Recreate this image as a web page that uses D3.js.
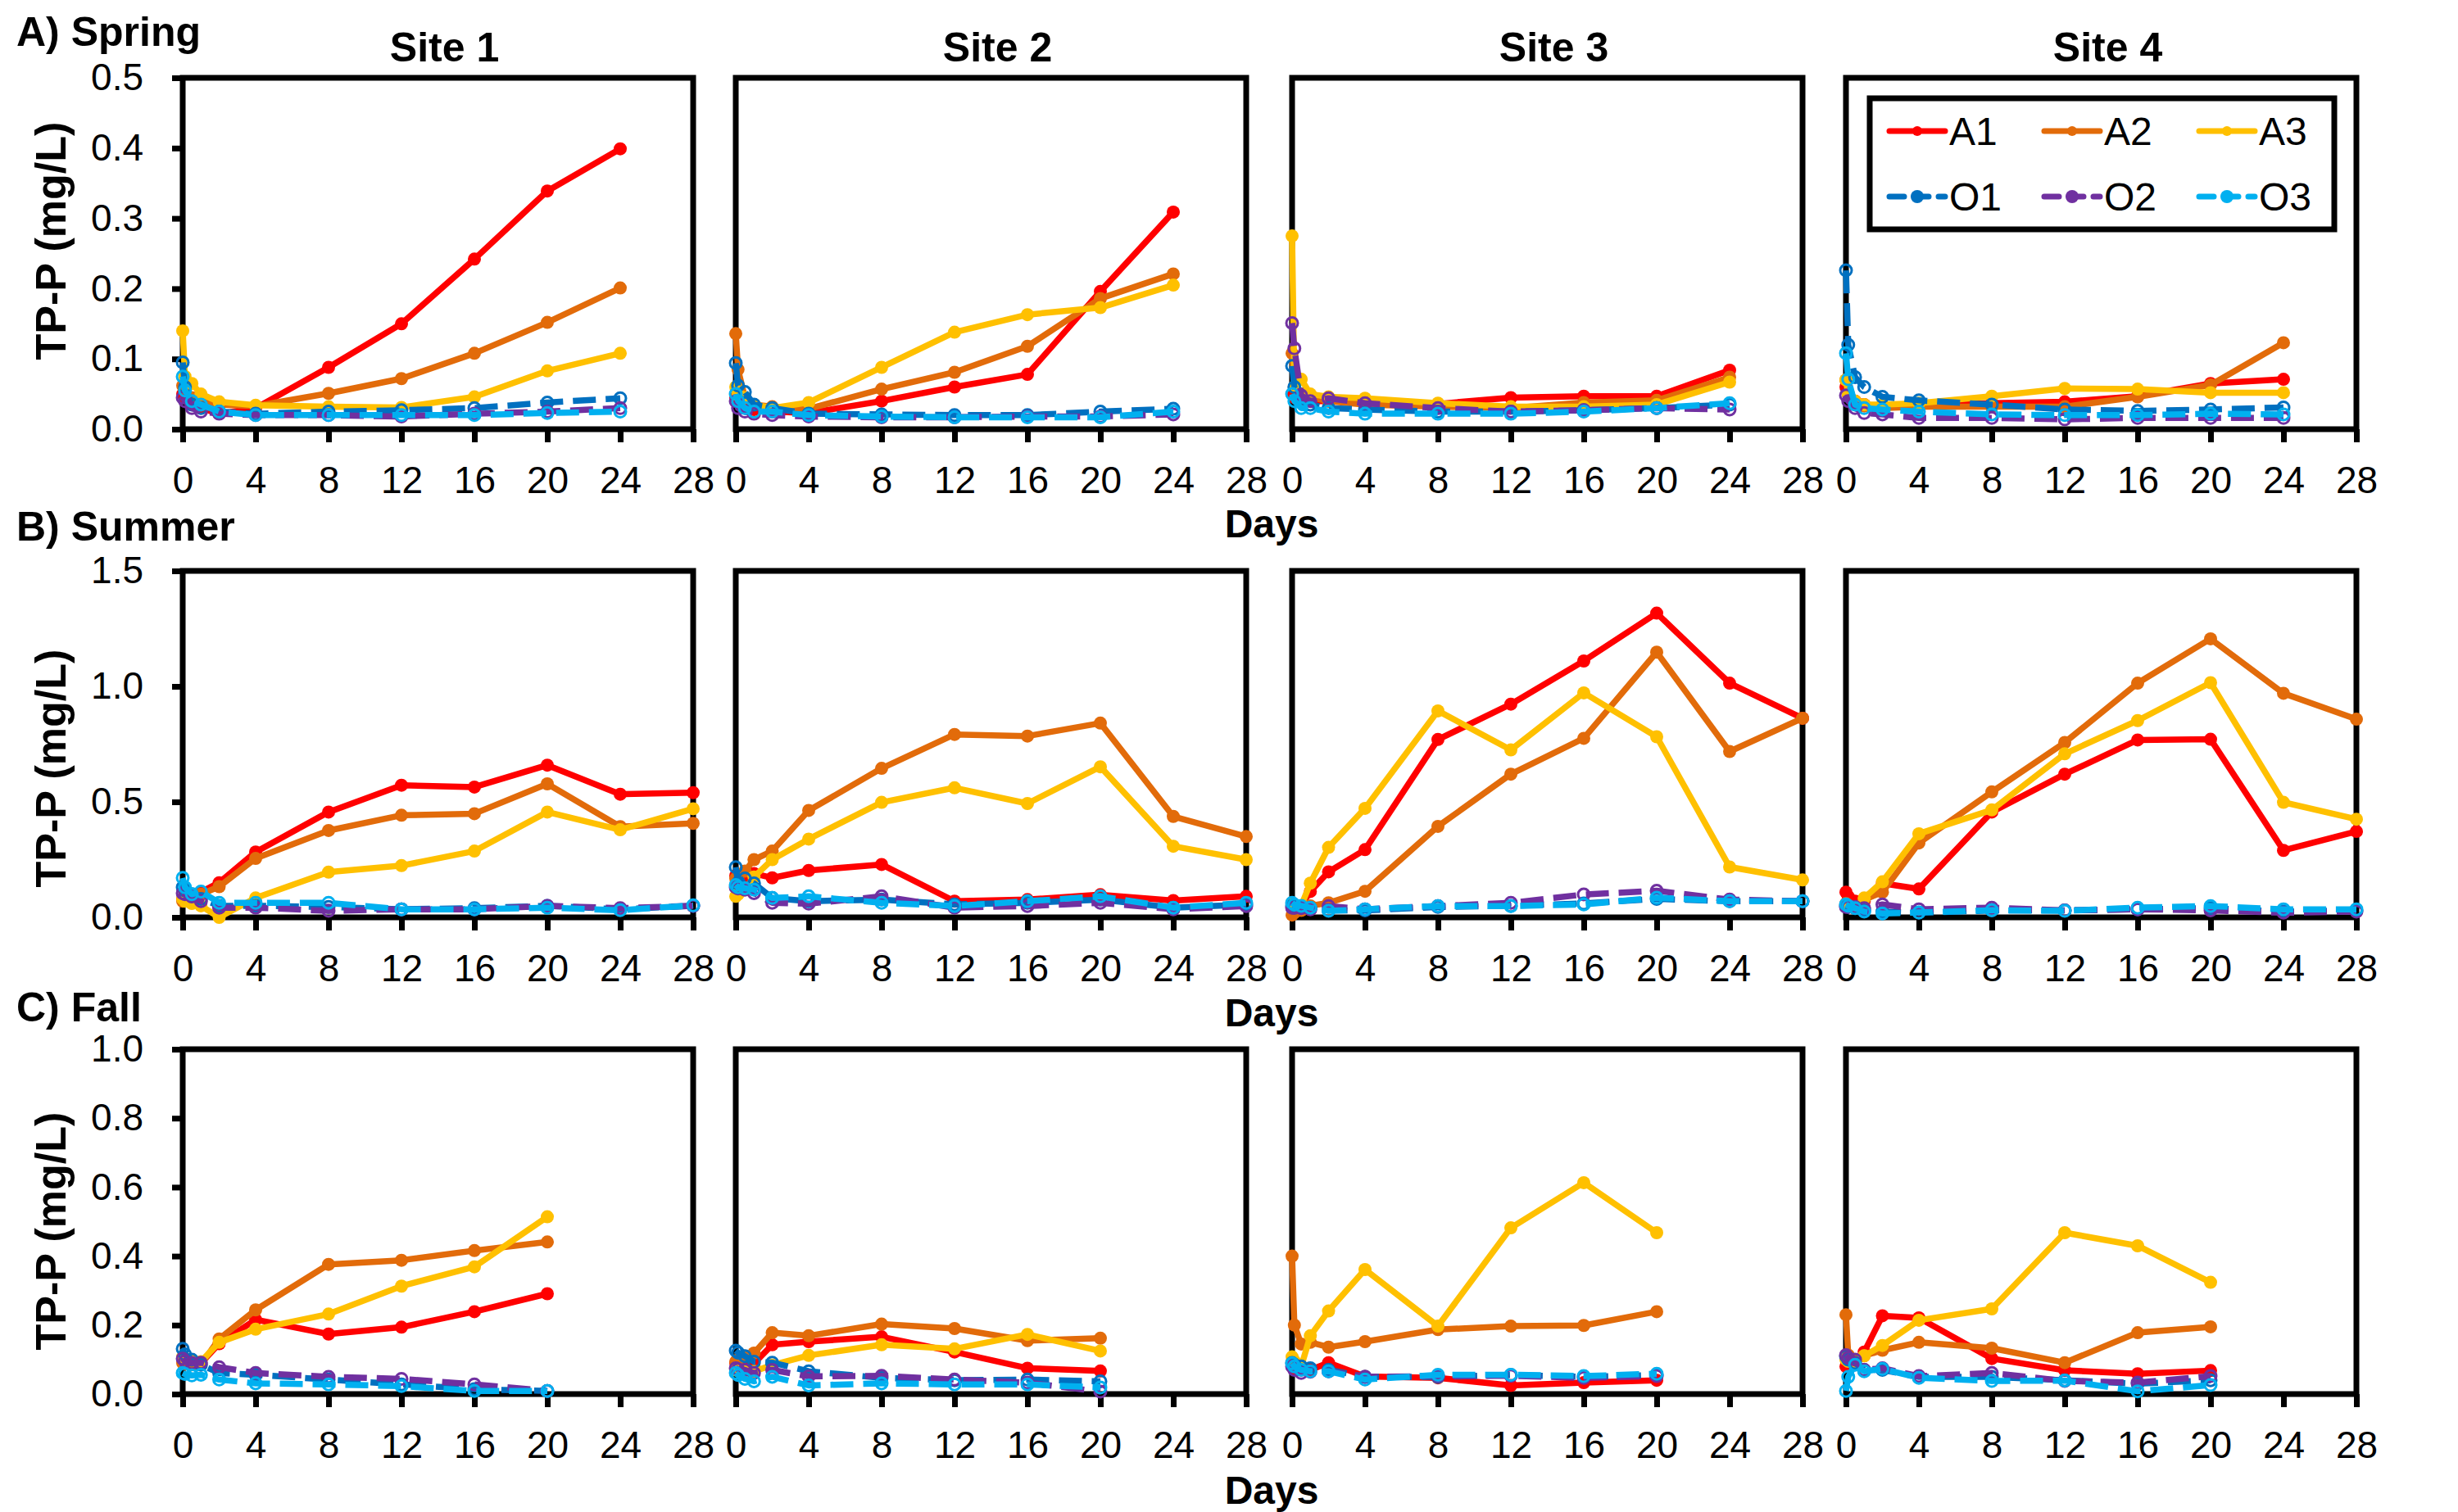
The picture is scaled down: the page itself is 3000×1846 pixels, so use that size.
<!DOCTYPE html>
<html>
<head>
<meta charset="utf-8">
<script src="https://cdn.jsdelivr.net/npm/d3@7"></script>
<style>
  body { margin: 0; background: #fff; }
  text { font-family: "Liberation Sans", Arial, sans-serif; }
</style>
</head>
<body>
<div id="chart"></div>
<script>
// sampling days per season
var springDays = [0, 0.125, 0.5, 1, 2, 4, 8, 12, 16, 20, 24];
var summerDays = [0, 0.125, 0.5, 1, 2, 4, 8, 12, 16, 20, 24, 28];
var fallDays = [0, 0.125, 0.5, 1, 2, 4, 8, 12, 16, 20];

// TP-P (mg/L), one object per site, series A1..O3
var spring1 = {
  A1: [0.05, 0.045, 0.035, 0.03, 0.022, 0.03, 0.088, 0.15, 0.242, 0.339, 0.399],
  A2: [0.062, 0.058, 0.045, 0.04, 0.035, 0.033, 0.051, 0.072, 0.108, 0.152, 0.201],
  A3: [0.14, 0.075, 0.065, 0.05, 0.039, 0.034, 0.032, 0.031, 0.046, 0.083, 0.108],
  O1: [0.095, 0.06, 0.035, 0.03, 0.025, 0.022, 0.025, 0.027, 0.03, 0.038, 0.044],
  O2: [0.045, 0.04, 0.03, 0.025, 0.022, 0.02, 0.02, 0.018, 0.022, 0.025, 0.03],
  O3: [0.075, 0.055, 0.04, 0.035, 0.025, 0.02, 0.02, 0.02, 0.02, 0.023, 0.025]
};
var spring2 = {
  A1: [0.045, 0.04, 0.03, 0.028, 0.025, 0.023, 0.04, 0.06, 0.078, 0.196, 0.309],
  A2: [0.136, 0.085, 0.045, 0.035, 0.032, 0.029, 0.057, 0.081, 0.118, 0.186, 0.221],
  A3: [0.06, 0.05, 0.045, 0.035, 0.03, 0.038, 0.088, 0.138, 0.163, 0.173, 0.205],
  O1: [0.094, 0.062, 0.053, 0.035, 0.03, 0.022, 0.021, 0.02, 0.02, 0.025, 0.029],
  O2: [0.04, 0.03, 0.025, 0.022, 0.02, 0.018, 0.017, 0.017, 0.018, 0.018, 0.021],
  O3: [0.05, 0.04, 0.03, 0.025, 0.025, 0.02, 0.018, 0.017, 0.017, 0.017, 0.025]
};
var spring3 = {
  A1: [0.05, 0.045, 0.042, 0.04, 0.04, 0.04, 0.036, 0.045, 0.047, 0.047, 0.084],
  A2: [0.108, 0.06, 0.05, 0.045, 0.04, 0.035, 0.032, 0.03, 0.038, 0.041, 0.074],
  A3: [0.275, 0.06, 0.071, 0.05, 0.046, 0.044, 0.037, 0.032, 0.032, 0.035, 0.067],
  O1: [0.09, 0.06, 0.04, 0.035, 0.03, 0.028, 0.025, 0.025, 0.027, 0.03, 0.035],
  O2: [0.151, 0.115, 0.048, 0.04, 0.044, 0.037, 0.03, 0.025, 0.027, 0.03, 0.028],
  O3: [0.05, 0.04, 0.03, 0.03, 0.025, 0.022, 0.022, 0.022, 0.025, 0.03, 0.037]
};
var spring4 = {
  A1: [0.06, 0.05, 0.04, 0.035, 0.033, 0.035, 0.037, 0.039, 0.047, 0.065, 0.071],
  A2: [0.07, 0.05, 0.04, 0.033, 0.03, 0.032, 0.032, 0.032, 0.046, 0.063, 0.123],
  A3: [0.07, 0.05, 0.04, 0.035, 0.035, 0.037, 0.047, 0.058, 0.057, 0.052, 0.052],
  O1: [0.226, 0.12, 0.074, 0.06, 0.046, 0.041, 0.035, 0.028, 0.026, 0.028, 0.031],
  O2: [0.048, 0.04, 0.03, 0.023, 0.021, 0.016, 0.016, 0.014, 0.016, 0.016, 0.016],
  O3: [0.108, 0.071, 0.035, 0.03, 0.028, 0.025, 0.021, 0.02, 0.02, 0.022, 0.021]
};

var summer1 = {
  A1: [0.08, 0.085, 0.09, 0.11, 0.15, 0.283, 0.456, 0.572, 0.564, 0.659, 0.533, 0.54],
  A2: [0.07, 0.075, 0.08, 0.1, 0.133, 0.255, 0.376, 0.442, 0.449, 0.578, 0.393, 0.407],
  A3: [0.08, 0.07, 0.06, 0.05, 0.0, 0.084, 0.196, 0.224, 0.287, 0.456, 0.379, 0.47],
  O1: [0.13, 0.115, 0.1, 0.08, 0.05, 0.05, 0.045, 0.035, 0.04, 0.05, 0.035, 0.05],
  O2: [0.105, 0.1, 0.09, 0.07, 0.042, 0.042, 0.028, 0.035, 0.035, 0.05, 0.04, 0.05],
  O3: [0.171, 0.13, 0.1, 0.112, 0.063, 0.063, 0.063, 0.035, 0.035, 0.042, 0.031, 0.052]
};
var summer2 = {
  A1: [0.18, 0.175, 0.17, 0.19, 0.171, 0.203, 0.229, 0.07, 0.077, 0.098, 0.073, 0.091],
  A2: [0.168, 0.16, 0.2, 0.25, 0.287, 0.463, 0.645, 0.792, 0.785, 0.841, 0.437, 0.35],
  A3: [0.091, 0.1, 0.12, 0.175, 0.25, 0.339, 0.498, 0.561, 0.493, 0.652, 0.308, 0.25],
  O1: [0.217, 0.15, 0.168, 0.147, 0.084, 0.07, 0.077, 0.056, 0.063, 0.077, 0.042, 0.056],
  O2: [0.13, 0.125, 0.12, 0.105, 0.063, 0.059, 0.091, 0.042, 0.049, 0.063, 0.035, 0.049],
  O3: [0.14, 0.13, 0.126, 0.12, 0.084, 0.091, 0.063, 0.049, 0.07, 0.091, 0.042, 0.063]
};
var summer3 = {
  A1: [0.06, 0.055, 0.05, 0.112, 0.197, 0.293, 0.77, 0.923, 1.11, 1.317, 1.014, 0.862],
  A2: [0.01, 0.02, 0.03, 0.05, 0.063, 0.113, 0.394, 0.62, 0.775, 1.148, 0.718, 0.862],
  A3: [0.063, 0.055, 0.05, 0.148, 0.303, 0.472, 0.894, 0.725, 0.972, 0.782, 0.218, 0.162],
  O1: [0.05, 0.048, 0.045, 0.04, 0.03, 0.03, 0.045, 0.05, 0.06, 0.08, 0.07, 0.07],
  O2: [0.042, 0.041, 0.04, 0.035, 0.049, 0.035, 0.049, 0.063, 0.099, 0.115, 0.077, 0.07],
  O3: [0.063, 0.055, 0.05, 0.042, 0.028, 0.035, 0.049, 0.049, 0.056, 0.085, 0.07, 0.07]
};
var summer4 = {
  A1: [0.109, 0.09, 0.07, 0.07, 0.147, 0.123, 0.456, 0.62, 0.768, 0.771, 0.29, 0.372],
  A2: [0.06, 0.05, 0.04, 0.077, 0.109, 0.322, 0.543, 0.757, 1.014, 1.206, 0.97, 0.858],
  A3: [0.05, 0.045, 0.04, 0.084, 0.154, 0.362, 0.465, 0.708, 0.852, 1.016, 0.498, 0.425],
  O1: [0.05, 0.045, 0.04, 0.03, 0.025, 0.02, 0.03, 0.03, 0.035, 0.04, 0.025, 0.03],
  O2: [0.045, 0.045, 0.045, 0.04, 0.056, 0.035, 0.042, 0.03, 0.035, 0.03, 0.02, 0.025],
  O3: [0.056, 0.05, 0.04, 0.025, 0.017, 0.021, 0.031, 0.028, 0.042, 0.049, 0.035, 0.035]
};

var fall1 = {
  A1: [0.1, 0.095, 0.09, 0.089, 0.146, 0.216, 0.174, 0.194, 0.239, 0.291],
  A2: [0.09, 0.088, 0.085, 0.085, 0.16, 0.244, 0.376, 0.388, 0.416, 0.441],
  A3: [0.108, 0.104, 0.099, 0.094, 0.15, 0.188, 0.232, 0.313, 0.369, 0.514],
  O1: [0.131, 0.115, 0.1, 0.085, 0.061, 0.056, 0.042, 0.028, 0.014, 0.009],
  O2: [0.103, 0.095, 0.09, 0.091, 0.078, 0.061, 0.05, 0.044, 0.028, 0.009],
  O3: [0.061, 0.058, 0.054, 0.056, 0.042, 0.031, 0.028, 0.023, 0.009, 0.009]
};
var fall2 = {
  A1: [0.09, 0.09, 0.09, 0.089, 0.143, 0.152, 0.166, 0.122, 0.075, 0.067],
  A2: [0.094, 0.1, 0.11, 0.119, 0.178, 0.169, 0.203, 0.19, 0.155, 0.162],
  A3: [0.07, 0.068, 0.066, 0.066, 0.084, 0.112, 0.143, 0.131, 0.173, 0.125],
  O1: [0.126, 0.12, 0.11, 0.094, 0.091, 0.066, 0.047, 0.04, 0.042, 0.037],
  O2: [0.075, 0.072, 0.07, 0.061, 0.07, 0.051, 0.053, 0.042, 0.033, 0.007],
  O3: [0.061, 0.055, 0.044, 0.037, 0.05, 0.025, 0.031, 0.028, 0.028, 0.019]
};
var fall3 = {
  A1: [0.08, 0.075, 0.07, 0.07, 0.091, 0.051, 0.047, 0.025, 0.033, 0.04],
  A2: [0.4, 0.2, 0.145, 0.15, 0.136, 0.152, 0.187, 0.197, 0.199, 0.239],
  A3: [0.108, 0.095, 0.08, 0.169, 0.241, 0.361, 0.197, 0.482, 0.613, 0.468],
  O1: [0.09, 0.085, 0.08, 0.075, 0.07, 0.05, 0.05, 0.055, 0.05, 0.055],
  O2: [0.08, 0.07, 0.061, 0.065, 0.066, 0.05, 0.052, 0.053, 0.047, 0.052],
  O3: [0.089, 0.08, 0.07, 0.066, 0.066, 0.042, 0.056, 0.056, 0.052, 0.059]
};
var fall4 = {
  A1: [0.08, 0.082, 0.085, 0.122, 0.227, 0.221, 0.103, 0.069, 0.059, 0.068],
  A2: [0.23, 0.113, 0.1, 0.111, 0.127, 0.15, 0.133, 0.091, 0.178, 0.195],
  A3: [0.1, 0.095, 0.09, 0.111, 0.141, 0.214, 0.247, 0.468, 0.43, 0.324],
  O1: [0.11, 0.1, 0.09, 0.07, 0.07, 0.05, 0.05, 0.04, 0.03, 0.04],
  O2: [0.113, 0.105, 0.1, 0.07, 0.075, 0.052, 0.061, 0.038, 0.033, 0.052],
  O3: [0.009, 0.05, 0.085, 0.066, 0.073, 0.047, 0.038, 0.039, 0.008, 0.026]
};

var seasonLabels = ["A) Spring", "B) Summer", "C) Fall"];
var siteLabels = ["Site 1", "Site 2", "Site 3", "Site 4"];
var seriesNames = ["A1", "A2", "A3", "O1", "O2", "O3"];
var seriesColors = ["#FF0000", "#E26B0A", "#FFC000", "#0070C0", "#7030A0", "#00B0F0"];
var xTicks = [0, 4, 8, 12, 16, 20, 24, 28];
var yTicks = [
  [0, 0.1, 0.2, 0.3, 0.4, 0.5],
  [0, 0.5, 1.0, 1.5],
  [0, 0.2, 0.4, 0.6, 0.8, 1.0]
];

var seasonDays = [springDays, summerDays, fallDays];
var seasonSites = [
  [spring1, spring2, spring3, spring4],
  [summer1, summer2, summer3, summer4],
  [fall1, fall2, fall3, fall4]
];

var width = 3000;
var height = 1846;

// panel geometry (px)
var colLeft = [223, 898, 1577, 2253];
var panelW = 623;
var rowTop = [95, 697, 1281];
var rowBottom = [524, 1120, 1702];
var titleY = [294, 938, 1503]; // centre of rotated y title
var daysY = [656, 1253, 1836];
var labelY = [56, 660, 1247];

var svg = d3
  .select("#chart")
  .append("svg")
  .attr("width", width)
  .attr("height", height)
  .attr("viewBox", `0 0 ${width} ${height}`);

svg.append("rect").attr("width", width).attr("height", height).attr("fill", "#fff");

seasonLabels.forEach((label, r) => {
  var days = seasonDays[r];
  var top = rowTop[r];
  var bottom = rowBottom[r];

  svg
    .append("text")
    .attr("x", 20)
    .attr("y", labelY[r])
    .attr("font-size", 50)
    .attr("font-weight", "bold")
    .text(label);

  svg
    .append("text")
    .attr("transform", `translate(80, ${titleY[r]}) rotate(-90)`)
    .attr("text-anchor", "middle")
    .attr("font-size", 52)
    .attr("font-weight", "bold")
    .text("TP-P (mg/L)");

  svg
    .append("text")
    .attr("x", 1552)
    .attr("y", daysY[r])
    .attr("text-anchor", "middle")
    .attr("font-size", 48)
    .attr("font-weight", "bold")
    .text("Days");

  var yDomainMax = yTicks[r][yTicks[r].length - 1];

  seasonSites[r].forEach((site, c) => {
    var left = colLeft[c];
    var x = d3.scaleLinear().domain([0, 28]).range([left, left + panelW]);
    var y = d3.scaleLinear().domain([0, yDomainMax]).range([bottom, top]);

    var g = svg.append("g");

    if (r === 0) {
      svg
        .append("text")
        .attr("x", left + panelW / 2 + 8)
        .attr("y", 75)
        .attr("text-anchor", "middle")
        .attr("font-size", 50)
        .attr("font-weight", "bold")
        .text(siteLabels[c]);
    }

    // x axis
    var xAxis = g
      .append("g")
      .attr("transform", `translate(0, ${bottom})`)
      .call(
        d3.axisBottom(x).tickValues(xTicks).tickSize(16).tickPadding(29).tickFormat(d3.format("d"))
      );
    xAxis.select(".domain").remove();
    xAxis.selectAll("line").attr("stroke", "#000").attr("stroke-width", 7);
    xAxis.selectAll("text").attr("font-size", 46).attr("fill", "#000").attr("font-family", "Liberation Sans, Arial, sans-serif");

    // y axis only on first column
    if (c === 0) {
      var yAxis = g
        .append("g")
        .attr("transform", `translate(${left}, 0)`)
        .call(d3.axisLeft(y).tickValues(yTicks[r]).tickSize(13).tickPadding(35).tickFormat(d3.format(".1f")));
      yAxis.select(".domain").remove();
      yAxis.selectAll("line").attr("stroke", "#000").attr("stroke-width", 7);
      yAxis.selectAll("text").attr("font-size", 46).attr("fill", "#000").attr("font-family", "Liberation Sans, Arial, sans-serif");
    }

    // plot frame
    g.append("rect")
      .attr("x", x(0))
      .attr("y", y(yDomainMax))
      .attr("width", x(28) - x(0))
      .attr("height", y(0) - y(yDomainMax))
      .attr("fill", "none")
      .attr("stroke", "#000")
      .attr("stroke-width", 7);

    var line = d3
      .line()
      .x((d) => x(d[0]))
      .y((d) => y(d[1]));

    seriesNames.forEach((name, i) => {
      var pts = days.map((d, k) => [d, site[name][k]]);
      var isO = name[0] === "O";
      g.append("path")
        .datum(pts)
        .attr("d", line)
        .attr("fill", "none")
        .attr("stroke", seriesColors[i])
        .attr("stroke-width", 7.5)
        .attr("stroke-linejoin", "round")
        .attr("stroke-dasharray", isO ? "28,12" : null);

      g.selectAll(null)
        .data(pts)
        .enter()
        .append("circle")
        .attr("cx", (d) => x(d[0]))
        .attr("cy", (d) => y(d[1]))
        .attr("r", isO ? 7 : 8)
        .attr("fill", isO ? "none" : seriesColors[i])
        .attr("stroke", isO ? seriesColors[i] : "none")
        .attr("stroke-width", 3);
    });

    // legend inside spring site 4
    if (r === 0 && c === 3) {
      var lg = svg.append("g");
      lg.append("rect")
        .attr("x", 2282)
        .attr("y", 120)
        .attr("width", 567)
        .attr("height", 160)
        .attr("fill", "#fff")
        .attr("stroke", "#000")
        .attr("stroke-width", 7);
      seriesNames.forEach((name, i) => {
        var lx = 2306 + (i % 3) * 189;
        var ly = i < 3 ? 160 : 240;
        var isO = name[0] === "O";
        lg.append("line")
          .attr("x1", lx)
          .attr("x2", lx + 68)
          .attr("y1", ly)
          .attr("y2", ly)
          .attr("stroke", seriesColors[i])
          .attr("stroke-width", 7)
          .attr("stroke-linecap", "round")
          .attr("stroke-dasharray", isO ? "18,12" : null);
        lg.append("circle")
          .attr("cx", lx + 34)
          .attr("cy", ly)
          .attr("r", isO ? 8 : 6)
          .attr("fill", seriesColors[i]);
        lg.append("text")
          .attr("x", lx + 73)
          .attr("y", ly + 17)
          .attr("font-size", 48)
          .text(name);
      });
    }
  });
});
</script>
</body>
</html>
